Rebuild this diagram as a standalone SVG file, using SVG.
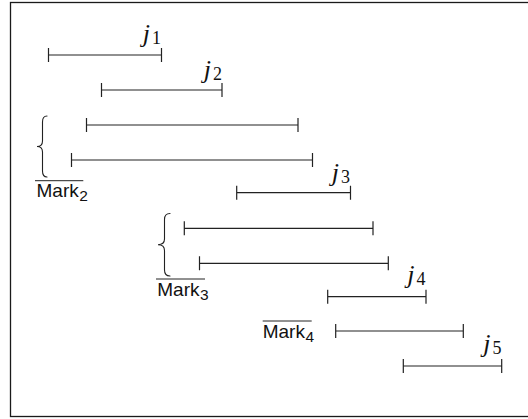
<svg xmlns="http://www.w3.org/2000/svg" width="528" height="419" viewBox="0 0 528 419">
<style>
.bg{fill:#ffffff}
.frame{fill:none;stroke:#1a1a1a;stroke-width:1.3}
.iv{fill:none;stroke:#222;stroke-width:1.2}
.br{fill:none;stroke:#222;stroke-width:1.1;stroke-linecap:round}
.ov{fill:none;stroke:#222;stroke-width:1}
.jl{font-family:"Liberation Serif",serif;font-style:italic;font-size:26px;fill:#111}
.js{font-family:"Liberation Serif",serif;font-style:normal;font-size:18px}
.mk{font-family:"Liberation Sans",sans-serif;font-size:19px;fill:#111}
.ms{font-size:15.5px}
</style>
<rect class="bg" x="0" y="0" width="528" height="419"/>
<rect class="frame" x="10.5" y="2.5" width="530" height="414"/>

<g id="j1">
<path class="iv" d="M48.5,55 H161.5 M48.5,48 V62 M161.5,48 V62"/>
<text class="jl" x="161" y="42" text-anchor="end">j<tspan class="js" dx="2" dy="2">1</tspan></text>
</g>
<g id="j2">
<path class="iv" d="M101.5,90 H222 M101.5,83 V97 M222,83 V97"/>
<text class="jl" x="222" y="78" text-anchor="end">j<tspan class="js" dx="2" dy="2">2</tspan></text>
</g>
<g id="mark2-a">
<path class="iv" d="M86.5,125 H298 M86.5,118 V132 M298,118 V132"/>
</g>
<g id="mark2-b">
<path class="iv" d="M71.5,160 H312.5 M71.5,153 V167 M312.5,153 V167"/>
</g>
<g id="brace2">
<path class="br" d="M47,116 Q42.5,116 42.5,122 L42.5,141 Q42.5,146.5 37,146.5 Q42.5,146.5 42.5,152 L42.5,171 Q42.5,177 47,177"/>
<path class="ov" d="M35,180.7 H83.3"/>
<text class="mk" x="36.5" y="197">Mark<tspan class="ms" dx="0.5" dy="4">2</tspan></text>
</g>
<g id="j3">
<path class="iv" d="M236.7,192.7 H350.5 M236.7,185.7 V199.7 M350.5,185.7 V199.7"/>
<text class="jl" x="350" y="180.5" text-anchor="end">j<tspan class="js" dx="2" dy="2">3</tspan></text>
</g>
<g id="mark3-a">
<path class="iv" d="M184.3,228.3 H373 M184.3,221.3 V235.3 M373,221.3 V235.3"/>
</g>
<g id="mark3-b">
<path class="iv" d="M199.5,263.3 H388.3 M199.5,256.3 V270.3 M388.3,256.3 V270.3"/>
</g>
<g id="brace3">
<path class="br" d="M170,213.5 Q164.5,213.5 164.5,219.5 L164.5,239 Q164.5,244.7 158,244.7 Q164.5,244.7 164.5,250.5 L164.5,270 Q164.5,276 170,276"/>
<path class="ov" d="M156,279 H205"/>
<text class="mk" x="157.3" y="295.5">Mark<tspan class="ms" dx="0.5" dy="4">3</tspan></text>
</g>
<g id="j4">
<path class="iv" d="M327.7,296.7 H426 M327.7,289.7 V303.7 M426,289.7 V303.7"/>
<text class="jl" x="425.5" y="283" text-anchor="end">j<tspan class="js" dx="2" dy="2">4</tspan></text>
</g>
<g id="mark4">
<path class="iv" d="M335.7,331 H463.3 M335.7,324 V338 M463.3,324 V338"/>
<path class="ov" d="M262.7,321 H311.7"/>
<text class="mk" x="262.7" y="338">Mark<tspan class="ms" dx="0.5" dy="4">4</tspan></text>
</g>
<g id="j5">
<path class="iv" d="M403.3,366 H501.7 M403.3,359 V373 M501.7,359 V373"/>
<text class="jl" x="501.5" y="351.5" text-anchor="end">j<tspan class="js" dx="2" dy="2">5</tspan></text>
</g>
<g id="connectors"/>
</svg>
